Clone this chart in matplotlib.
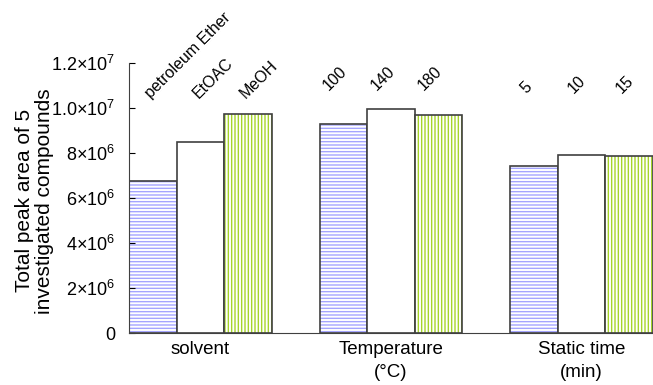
import numpy as np
import matplotlib.pyplot as plt
from matplotlib.ticker import FixedLocator, FuncFormatter

plt.rcParams['font.family'] = ['Liberation Sans', 'DejaVu Sans']
plt.rcParams['mathtext.fontset'] = 'custom'
plt.rcParams['mathtext.rm'] = 'Liberation Sans'
plt.rcParams['mathtext.it'] = 'Liberation Sans'
plt.rcParams['hatch.linewidth'] = 1.0

# Datos
grupos = ["solvent", "Temperature\n(\u00b0C)", "Static time\n(min)"]
etiquetas = [["petroleum Ether", "EtOAC", "MeOH"],
             ["100", "140", "180"],
             ["5", "10", "15"]]
area_solvente = [6.76e6, 8.49e6, 9.73e6]
area_temperatura = [9.29e6, 9.96e6, 9.69e6]
area_tiempo = [7.42e6, 7.91e6, 7.87e6]
valores = np.array([area_solvente, area_temperatura, area_tiempo])

ancho = 0.25
x_grupo = np.arange(1, 4)
estilos = [dict(color="white", edgecolor="#a4a4ff", hatch="-----"),
           dict(color="white", edgecolor="white", hatch=None),
           dict(color="white", edgecolor="#a6d42a", hatch="|||||")]

fig = plt.figure(figsize=(6.53, 3.85), dpi=100)
ax = fig.add_axes([0.1975, 0.135, 0.8025, 0.701])

for i in range(3):
    xs = x_grupo + (i - 1) * ancho
    ax.bar(xs, valores[:, i], width=ancho, linewidth=0, **estilos[i])
    ax.bar(xs, valores[:, i], width=ancho, fill=False, edgecolor="#404040", linewidth=1.2)

# Etiquetas inclinadas sobre las barras
desplaz = [0.0, -0.065, -0.03]
altura = [1.03e7, 1.065e7, 1.055e7]
for g in range(3):
    for i in range(3):
        ax.text(x_grupo[g] + (i - 1) * ancho + desplaz[g], altura[g], etiquetas[g][i],
                rotation=45, ha="left", va="bottom", rotation_mode="anchor",
                fontsize=11.5, clip_on=False)

ax.set_xlim(0.625, 3.375)
ax.set_ylim(0, 1.2e7)
ax.set_xticks(x_grupo)
ax.set_xticklabels(grupos, fontsize=13.5, linespacing=1.45)
ax.tick_params(axis="x", length=0, pad=6)

def fmt(v, pos):
    if v == 0:
        return "0"
    e = int(np.floor(np.log10(v) + 1e-9))
    m = v / 10 ** e
    if e == 7:
        return "%.1f\u00d710$^{%d}$" % (m, e)
    return "%d\u00d710$^{%d}$" % (round(m), e)

ax.yaxis.set_major_locator(FixedLocator(np.arange(0, 1.21e7, 2e6)))
ax.yaxis.set_major_formatter(FuncFormatter(fmt))
ax.tick_params(axis="y", direction="in", length=4, labelsize=13, pad=10)
ax.set_ylabel("Total peak area of 5\ninvestigated compounds", fontsize=15,
              linespacing=1.1)
ax.yaxis.set_label_coords(-0.143, 0.49)

for lado in ["top", "right"]:
    ax.spines[lado].set_visible(False)
ax.spines["left"].set_color("#404040")
ax.spines["bottom"].set_color("#404040")

fig.savefig("out.png", dpi=100)
